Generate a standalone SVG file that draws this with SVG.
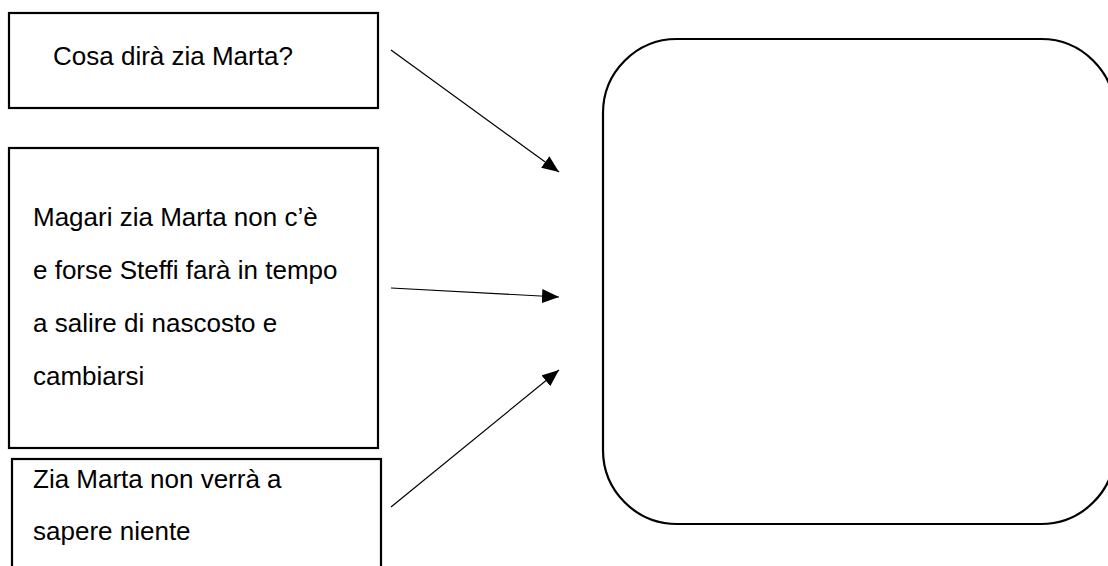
<svg xmlns="http://www.w3.org/2000/svg" width="1108" height="566" viewBox="0 0 1108 566">
<style>
.box{fill:#fff;stroke:#000;stroke-width:2.2}
.t{font-family:"Liberation Sans",Arial,sans-serif;font-size:26px;fill:#000}
.c{stroke:#000;stroke-width:1.2;fill:none}
</style>
<defs>
<marker id="ah" markerUnits="userSpaceOnUse" markerWidth="18" markerHeight="14" refX="17" refY="7" orient="auto">
<path d="M0,0 L17,7 L0,14 Z" fill="#000"/>
</marker>
</defs>
<rect width="1108" height="566" fill="#fff"/>
<g id="n1">
<rect class="box" x="9" y="13" width="369" height="95"/>
<text class="t" x="53" y="65">Cosa dirà zia Marta?</text>
</g>
<g id="n2">
<rect class="box" x="9" y="148" width="369" height="300"/>
<text class="t" x="33" y="226">Magari zia Marta non c’è</text>
<text class="t" x="33" y="279">e forse Steffi farà in tempo</text>
<text class="t" x="33" y="332">a salire di nascosto e</text>
<text class="t" x="33" y="385">cambiarsi</text>
</g>
<g id="n3">
<rect class="box" x="12" y="459" width="369" height="130"/>
<text class="t" x="33" y="488">Zia Marta non verrà a</text>
<text class="t" x="33" y="540">sapere niente</text>
</g>
<g id="n4">
<rect class="box" x="603" y="39" width="512" height="485" rx="74" ry="74"/>
</g>
<g id="connectors">
<line class="c" x1="391" y1="50" x2="559" y2="172" marker-end="url(#ah)"/>
<line class="c" x1="391" y1="288" x2="559" y2="297" marker-end="url(#ah)"/>
<line class="c" x1="391" y1="507" x2="559" y2="370" marker-end="url(#ah)"/>
</g>
</svg>
